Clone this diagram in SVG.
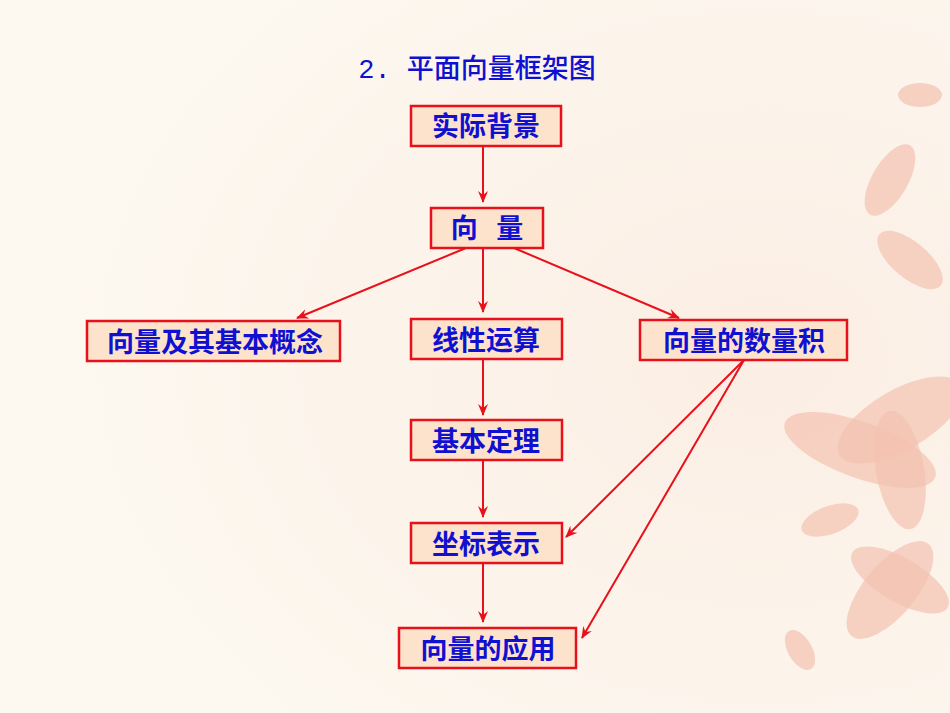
<svg xmlns="http://www.w3.org/2000/svg" width="950" height="713" viewBox="0 0 950 713">
<defs>
<style>
.b{fill:#fde3cc;stroke:#e8101a;stroke-width:2.5}
.t{font-family:"Noto Sans CJK SC",sans-serif;font-weight:bold;font-size:27px;fill:#1010d0;text-anchor:middle}
.c line{stroke:#e8101a;stroke-width:2;marker-end:url(#a)}
.p{fill:#f3c2b0;opacity:.7}
</style>
<marker id="a" viewBox="0 0 12 10" refX="11" refY="5" markerWidth="12" markerHeight="10" markerUnits="userSpaceOnUse" orient="auto"><path d="M0,0 L12,5 L0,10 L4,5 Z" fill="#e8101a"/></marker>
<radialGradient id="bg" cx="0.8" cy="0.5" r="0.8"><stop offset="0" stop-color="#fbeee4"/><stop offset="1" stop-color="#fdf9f1"/></radialGradient>
</defs>
<rect width="950" height="713" fill="url(#bg)"/>
<g id="flowers">
<ellipse class="p" cx="900" cy="420" rx="70" ry="30" transform="rotate(-30 900 420)"/>
<ellipse class="p" cx="860" cy="450" rx="80" ry="28" transform="rotate(20 860 450)"/>
<ellipse class="p" cx="900" cy="470" rx="60" ry="24" transform="rotate(80 900 470)"/>
<ellipse class="p" cx="890" cy="590" rx="60" ry="26" transform="rotate(-50 890 590)"/>
<ellipse class="p" cx="900" cy="580" rx="55" ry="22" transform="rotate(30 900 580)"/>
<ellipse class="p" cx="890" cy="180" rx="40" ry="18" transform="rotate(-60 890 180)"/>
<ellipse class="p" cx="910" cy="260" rx="40" ry="18" transform="rotate(40 910 260)"/>
<ellipse class="p" cx="830" cy="520" rx="30" ry="14" transform="rotate(-20 830 520)"/>
<ellipse class="p" cx="920" cy="95" rx="22" ry="12"/>
<ellipse class="p" cx="800" cy="650" rx="22" ry="12" transform="rotate(60 800 650)"/>
</g>
<text class="t" x="477" y="78" style="font-family:'Liberation Mono','Noto Sans CJK SC',monospace;font-weight:500;font-size:27px">2. 平面向量框架图</text>
<g class="c" id="connectors">
<line x1="483" y1="146" x2="483" y2="202"/>
<line x1="466" y1="248" x2="297" y2="318"/>
<line x1="483" y1="248" x2="483" y2="312"/>
<line x1="514" y1="248" x2="679" y2="318"/>
<line x1="483" y1="359" x2="483" y2="415"/>
<line x1="483" y1="460" x2="483" y2="517"/>
<line x1="483" y1="563" x2="483" y2="622"/>
<line x1="744" y1="360" x2="566" y2="537"/>
<line x1="744" y1="360" x2="582" y2="638"/>
</g>
<g id="n1"><rect class="b" x="411" y="106" width="150" height="40"/><text class="t" x="486" y="136">实际背景</text></g>
<g id="n2"><rect class="b" x="431" y="208" width="112" height="40"/><text class="t" x="487" y="238" xml:space="preserve">向   量</text></g>
<g id="n3"><rect class="b" x="87" y="321" width="253" height="40"/><text class="t" x="215" y="352">向量及其基本概念</text></g>
<g id="n4"><rect class="b" x="411" y="319" width="151" height="40"/><text class="t" x="486" y="350">线性运算</text></g>
<g id="n5"><rect class="b" x="640" y="320" width="207" height="40"/><text class="t" x="744" y="351">向量的数量积</text></g>
<g id="n6"><rect class="b" x="411" y="420" width="151" height="40"/><text class="t" x="486" y="451">基本定理</text></g>
<g id="n7"><rect class="b" x="411" y="523" width="151" height="40"/><text class="t" x="486" y="554">坐标表示</text></g>
<g id="n8"><rect class="b" x="399" y="628" width="177" height="40"/><text class="t" x="488" y="659">向量的应用</text></g>
</svg>
